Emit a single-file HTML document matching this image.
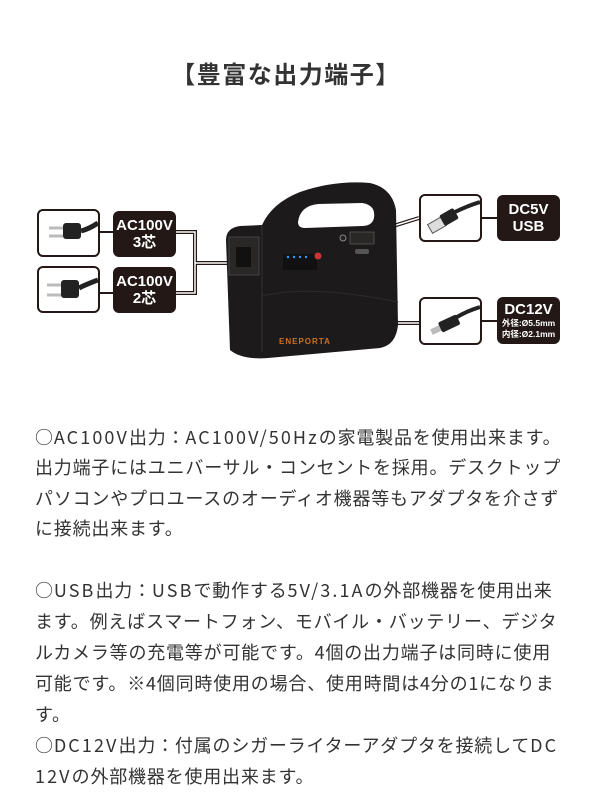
<!DOCTYPE html>
<html><head><meta charset="utf-8">
<style>
body{margin:0;background:#fff;}
#p{position:relative;width:600px;height:800px;overflow:hidden;background:#fff;font-family:"Liberation Sans","Noto Sans CJK JP",sans-serif;}
.t{position:absolute;left:0;width:600px;text-align:center;top:55px;font-size:24px;font-weight:bold;color:#333;letter-spacing:1.5px;white-space:nowrap;}
.l{position:absolute;left:35px;font-family:"Noto Sans CJK JP",sans-serif;font-size:18px;color:#333;letter-spacing:0.8px;white-space:nowrap;line-height:24px;}
.l i{font-style:normal;letter-spacing:2.1px;}
.box{position:absolute;border:2px solid #231815;border-radius:6px;background:#fff;box-sizing:border-box;}
.lab{position:absolute;background:#231815;border-radius:6px;color:#fff;font-weight:bold;text-align:center;box-sizing:border-box;}
</style></head><body><div id="p">
<div class="t" style="left:-14px">【豊富な出力端子】</div>

<svg style="position:absolute;left:0;top:0" width="600" height="400">
<path d="M100 232H113M100 293H113M482 218H497M482 321H497" stroke="#231815" stroke-width="2"/>
<g fill="none" stroke-linejoin="miter">
<path d="M176 232H195V293H176M195 263H228" stroke="#231815" stroke-width="4"/>
<path d="M176 232H195V293H176M195 263H228" stroke="#fff" stroke-width="1.5"/>
<path d="M419 218L374 232M419 323H375L348 243" stroke="#231815" stroke-width="4"/>
<path d="M419 218L374 232M419 323H375L348 243" stroke="#fff" stroke-width="1.5"/>
</g>
<path d="M230 350L226 240Q226 228 240 226L262 225Q272 203 300 192Q335 180 370 183Q392 188 396 210L398 325Q396 345 380 348L268 358Q242 360 230 350Z" fill="#1c1a1a"/>
<path d="M298 222Q300 206 318 204L362 203Q376 205 374 218Q372 226 362 226L305 228Q298 228 298 222Z" fill="#fff"/>
<path d="M262 225L262 352" stroke="#333" stroke-width="1"/>
<rect x="229" y="237" width="30" height="38" fill="#2a2727" stroke="#444"/>
<rect x="236" y="247" width="15" height="20" fill="#111"/>
<path d="M262 296Q310 284 398 302" stroke="#2e2b2b" fill="none"/>
<rect x="283" y="254" width="34" height="16" fill="#111"/>
<circle cx="288" cy="257" r="1.2" fill="#39f"/><circle cx="294" cy="257" r="1.2" fill="#39f"/><circle cx="300" cy="257" r="1.2" fill="#39f"/><circle cx="306" cy="257" r="1.2" fill="#39f"/>
<circle cx="318" cy="256" r="3.5" fill="#c33"/>
<circle cx="343" cy="238" r="3" fill="#222" stroke="#888"/>
<rect x="350" y="232" width="24" height="12" fill="#2a2727" stroke="#777" stroke-width="0.5"/>
<rect x="355" y="249" width="14" height="5" rx="2" fill="#555"/>
<text x="279" y="344" font-family="Liberation Sans,sans-serif" font-size="8" fill="#d07020" font-weight="bold" letter-spacing="1">ENEPORTA</text>
</svg>

<div class="box" style="left:37px;top:209px;width:63px;height:48px"><svg width="59" height="44"><rect x="24" y="12" width="18" height="16" rx="3" fill="#222"/><path d="M42 20Q50 18 59 12" stroke="#222" stroke-width="5" fill="none"/><path d="M10 17h14M10 25h14" stroke="#bbb" stroke-width="3"/></svg></div>
<div class="lab" style="left:113px;top:211px;width:63px;height:46px;font-size:15px;line-height:17px;padding-top:6px">AC100V<br>3芯</div>
<div class="box" style="left:37px;top:266px;width:63px;height:47px"><svg width="59" height="43"><rect x="22" y="12" width="18" height="18" rx="3" fill="#222"/><path d="M40 20Q48 16 59 12" stroke="#222" stroke-width="5" fill="none"/><path d="M8 17h14M8 27h14" stroke="#bbb" stroke-width="3"/></svg></div>
<div class="lab" style="left:113px;top:267px;width:63px;height:46px;font-size:15px;line-height:17px;padding-top:6px">AC100V<br>2芯</div>

<div class="box" style="left:419px;top:194px;width:63px;height:48px"><svg width="59" height="44"><rect x="8" y="24" width="16" height="10" fill="#ddd" stroke="#555" transform="rotate(-30 16 29)"/><rect x="20" y="15" width="16" height="12" rx="2" fill="#222" transform="rotate(-30 28 21)"/><path d="M34 16Q46 10 59 6" stroke="#222" stroke-width="4" fill="none"/></svg></div>
<div class="lab" style="left:497px;top:195px;width:63px;height:46px;font-size:15px;line-height:17px;padding-top:6px">DC5V<br>USB</div>
<div class="box" style="left:419px;top:297px;width:63px;height:48px"><svg width="59" height="44"><rect x="10" y="28" width="10" height="6" fill="#bbb" transform="rotate(-25 15 31)"/><rect x="18" y="19" width="20" height="11" rx="2" fill="#222" transform="rotate(-25 28 24)"/><path d="M36 18Q46 12 59 8" stroke="#222" stroke-width="4" fill="none"/></svg></div>
<div class="lab" style="left:497px;top:297px;width:63px;height:47px;padding-top:4px"><div style="font-size:15px;line-height:17px">DC12V</div><div style="font-size:8.5px;line-height:11px">外径:Ø5.5mm<br>内径:Ø2.1mm</div></div>

<div class="l" style="top:425px">○<i>AC100V</i>出力：<i>AC100V/50Hz</i>の家電製品を使用出来ます。</div>
<div class="l" style="top:455px">出力端子にはユニバーサル・コンセントを採用。デスクトップ</div>
<div class="l" style="top:486px">パソコンやプロユースのオーディオ機器等もアダプタを介さず</div>
<div class="l" style="top:516px">に接続出来ます。</div>
<div class="l" style="top:578px">○<i>USB</i>出力：<i>USB</i>で動作する<i>5V/3.1A</i>の外部機器を使用出来</div>
<div class="l" style="top:609px">ます。例えばスマートフォン、モバイル・バッテリー、デジタ</div>
<div class="l" style="top:640px">ルカメラ等の充電等が可能です。4個の出力端子は同時に使用</div>
<div class="l" style="top:671px">可能です。※4個同時使用の場合、使用時間は4分の1になりま</div>
<div class="l" style="top:702px">す。</div>
<div class="l" style="top:733px">○<i>DC12V</i>出力：付属のシガーライターアダプタを接続して<i>DC</i></div>
<div class="l" style="top:764px"><i>12V</i>の外部機器を使用出来ます。</div>
</div></body></html>
